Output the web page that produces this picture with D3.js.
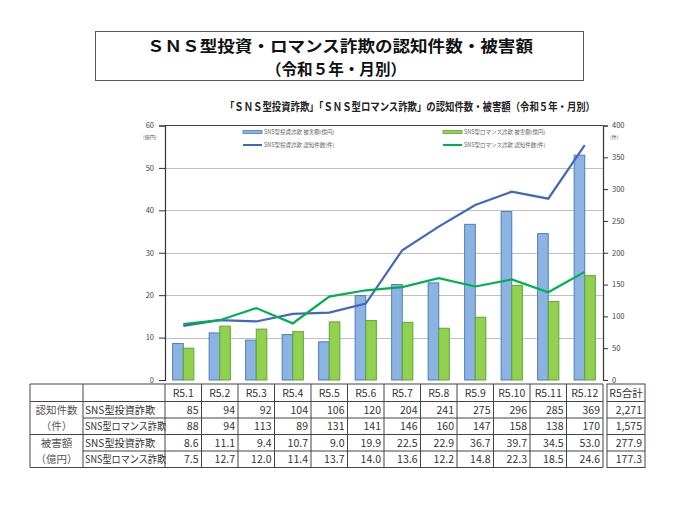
<!DOCTYPE html>
<html><head><meta charset="utf-8">
<script src="https://cdn.jsdelivr.net/npm/d3@7"></script>
<style>
html,body{margin:0;padding:0;background:#fff;}
text{font-family:"Noto Sans CJK JP","Noto Sans",sans-serif;}
</style></head>
<body><svg id="c" width="680" height="510"></svg>
<script>
const months = ["R5.1","R5.2","R5.3","R5.4","R5.5","R5.6","R5.7","R5.8","R5.9","R5.10","R5.11","R5.12"];
const invCount = [85,94,92,104,106,120,204,241,275,296,285,369];
const romCount = [88,94,113,89,131,141,146,160,147,158,138,170];
const invAmount = [8.6,11.1,9.4,10.7,9.0,19.9,22.5,22.9,36.7,39.7,34.5,53.0];
const romAmount = [7.5,12.7,12.0,11.4,13.7,14.0,13.6,12.2,14.8,22.3,18.5,24.6];
const totals = ["2,271","1,575","277.9","177.3"];
const leftTicks = [0,10,20,30,40,50,60];
const rightTicks = [0,50,100,150,200,250,300,350,400];
const seriesNames = ["SNS型投資詐欺 被害額(億円)","SNS型ロマンス詐欺 被害額(億円)","SNS型投資詐欺 認知件数(件)","SNS型ロマンス詐欺 認知件数(件)"];

const svg = d3.select("#c");
svg.append("rect").attr("width",680).attr("height",510).attr("fill","#fff");

// Title box
svg.append("rect").attr("x",95.5).attr("y",31.5).attr("width",488).attr("height",49)
  .attr("fill","#fff").attr("stroke","#555").attr("stroke-width",1);
svg.append("text").attr("x",340).attr("y",52).attr("text-anchor","middle")
  .attr("font-size",15.5).attr("font-weight","bold").attr("fill","#111")
  .attr("textLength",386).attr("lengthAdjust","spacingAndGlyphs")
  .text("ＳＮＳ型投資・ロマンス詐欺の認知件数・被害額");
svg.append("text").attr("x",336).attr("y",75).attr("text-anchor","middle")
  .attr("font-size",15.5).attr("font-weight","bold").attr("fill","#111")
  .attr("textLength",140).attr("lengthAdjust","spacingAndGlyphs")
  .text("（令和５年・月別）");

// Subtitle
svg.append("text").attr("x",410).attr("y",111).attr("text-anchor","middle")
  .attr("font-size",11).attr("font-weight","bold").attr("fill","#222")
  .attr("textLength",370).attr("lengthAdjust","spacingAndGlyphs")
  .text("「ＳＮＳ型投資詐欺」「ＳＮＳ型ロマンス詐欺」の認知件数・被害額（令和５年・月別）");

// Scales
const x0 = 165, x1 = 603, yTop = 125.5, yBot = 380;
const x = d3.scaleBand().domain(months).range([x0,x1]).paddingInner(0);
const yL = d3.scaleLinear().domain([0,60]).range([yBot,yTop]);
const yR = d3.scaleLinear().domain([0,400]).range([yBot,yTop]);

// gridlines
svg.append("g").selectAll("line").data(leftTicks.filter(d=>d>0 && d<60)).join("line")
  .attr("x1",x0).attr("x2",x1).attr("y1",d=>Math.round(yL(d))+0.5).attr("y2",d=>Math.round(yL(d))+0.5)
  .attr("stroke","#c0c0c0").attr("stroke-width",1);
// top border
svg.append("line").attr("x1",x0).attr("x2",x1).attr("y1",yTop).attr("y2",yTop).attr("stroke","#444").attr("stroke-width",1.2);

// axes
const axL = d3.axisLeft(yL).tickValues(leftTicks).tickSize(6).tickPadding(5);
const gL = svg.append("g").attr("transform",`translate(${x0},0)`).call(axL);
const axR = d3.axisRight(yR).tickValues(rightTicks).tickSize(5).tickPadding(4);
const gR = svg.append("g").attr("transform",`translate(${x1},0)`).call(axR);
[gL,gR].forEach(g=>{
  g.select(".domain").attr("stroke","#333").attr("stroke-width",1.2);
  g.selectAll(".tick line").attr("stroke","#333");
  g.selectAll(".tick text").attr("font-size",7.5).attr("fill","#444").attr("font-family","Lato,'Noto Sans',sans-serif");
});
svg.append("text").attr("x",143).attr("y",139).attr("font-size",5).attr("fill","#555").text("(億円)");
svg.append("text").attr("x",610).attr("y",139).attr("font-size",5).attr("fill","#555").text("(件)");

// bars
const bw = 10.6;
const gBars = svg.append("g");
gBars.selectAll("rect.inv").data(invAmount).join("rect").attr("class","inv")
  .attr("x",(d,i)=>x(months[i])+x.bandwidth()/2-bw).attr("width",bw)
  .attr("y",d=>yL(d)).attr("height",d=>yBot-yL(d))
  .attr("fill","#8db3e2").attr("stroke","#4a7ebb").attr("stroke-width",1);
gBars.selectAll("rect.rom").data(romAmount).join("rect").attr("class","rom")
  .attr("x",(d,i)=>x(months[i])+x.bandwidth()/2).attr("width",bw)
  .attr("y",d=>yL(d)).attr("height",d=>yBot-yL(d))
  .attr("fill","#92d050").attr("stroke","#5aa83a").attr("stroke-width",1);

// lines
const line = d3.line().x((d,i)=>x(months[i])+x.bandwidth()/2).y(d=>yR(d));
svg.append("path").datum(invCount).attr("d",line).attr("fill","none").attr("stroke","#4169b8").attr("stroke-width",2.2);
svg.append("path").datum(romCount).attr("d",line).attr("fill","none").attr("stroke","#00b050").attr("stroke-width",2.2);

// legend
const leg = [
  {x:243,y:132,type:"bar",fill:"#8db3e2",stroke:"#4a7ebb",name:seriesNames[0]},
  {x:443,y:132,type:"bar",fill:"#92d050",stroke:"#5aa83a",name:seriesNames[1]},
  {x:243,y:145,type:"line",stroke:"#4169b8",name:seriesNames[2]},
  {x:443,y:145,type:"line",stroke:"#00b050",name:seriesNames[3]}
];
const lg = svg.append("g").selectAll("g").data(leg).join("g").attr("transform",d=>`translate(${d.x},${d.y})`);
lg.filter(d=>d.type==="bar").append("rect").attr("x",0).attr("y",-1.5).attr("width",19).attr("height",3)
  .attr("fill",d=>d.fill).attr("stroke",d=>d.stroke).attr("stroke-width",0.8);
lg.filter(d=>d.type==="line").append("line").attr("x1",0).attr("x2",19).attr("y1",0).attr("y2",0)
  .attr("stroke",d=>d.stroke).attr("stroke-width",2);
lg.append("text").attr("x",21).attr("y",2).attr("font-size",5.5).attr("fill","#666").text(d=>d.name);

// Table
const tLeft = 30, c1 = 83, c2 = 167, tRight = 603, sL = 607, sR = 645;
const rows = [384,401.5,418,434.5,451,467.5];
const tg = svg.append("g");
const stroke = "#444";
const ln = (x1,y1,x2,y2)=>tg.append("line").attr("x1",x1).attr("y1",y1).attr("x2",x2).attr("y2",y2).attr("stroke",stroke).attr("stroke-width",1);
ln(tLeft,rows[0],tRight,rows[0]);
ln(tLeft,rows[1],tRight,rows[1]);
ln(c1,rows[2],tRight,rows[2]);
ln(tLeft,rows[3],tRight,rows[3]);
ln(c1,rows[4],tRight,rows[4]);
ln(tLeft,rows[5],tRight,rows[5]);
ln(tLeft,rows[0],tLeft,rows[5]);
ln(c1,rows[0],c1,rows[5]);
months.forEach((m,i)=>ln(x(m),rows[0],x(m),rows[5]));
ln(tRight,rows[0],tRight,rows[5]);
tg.append("rect").attr("x",sL).attr("y",rows[0]).attr("width",sR-sL).attr("height",rows[5]-rows[0]).attr("fill","none").attr("stroke",stroke);
[1,2,3,4].forEach(k=>ln(sL,rows[k],sR,rows[k]));

const fs = 10.5, txtCol = "#333";
const mid = k => (rows[k]+rows[k+1])/2 + 3.8;
tg.selectAll("text.h").data(months).join("text").attr("class","h")
  .attr("x",m=>x(m)+x.bandwidth()/2).attr("y",mid(0)).attr("text-anchor","middle")
  .attr("font-size",fs).attr("fill",txtCol).text(m=>m);
tg.append("text").attr("x",(sL+sR)/2).attr("y",mid(0)).attr("text-anchor","middle").attr("font-size",fs).attr("fill",txtCol).text("R5合計");
const rowLabels = ["認知件数","（件）","被害額","（億円）"];
rowLabels.forEach((s,k)=>tg.append("text").attr("x",(tLeft+c1)/2).attr("y",mid(k+1)).attr("text-anchor","middle")
  .attr("font-size",fs).attr("fill","#555").text(s));
const sub = ["SNS型投資詐欺","SNS型ロマンス詐欺","SNS型投資詐欺","SNS型ロマンス詐欺"];
sub.forEach((s,k)=>tg.append("text").attr("x",c1+2).attr("y",mid(k+1)).attr("font-size",fs).attr("fill",txtCol)
  .attr("textLength", k%2===0 ? 70 : 81).attr("lengthAdjust","spacingAndGlyphs").text(s));
const dataRows = [invCount.map(String), romCount.map(String), invAmount.map(d=>d.toFixed(1)), romAmount.map(d=>d.toFixed(1))];
dataRows.forEach((arr,k)=>{
  tg.append("g").selectAll("text").data(arr).join("text")
    .attr("x",(d,i)=>x(months[i])+x.bandwidth()-3).attr("y",mid(k+1)).attr("text-anchor","end")
    .attr("font-size",fs).attr("fill",txtCol).text(d=>d);
  tg.append("text").attr("x",sR-3).attr("y",mid(k+1)).attr("text-anchor","end").attr("font-size",fs).attr("fill",txtCol).text(totals[k]);
});
</script></body></html>
